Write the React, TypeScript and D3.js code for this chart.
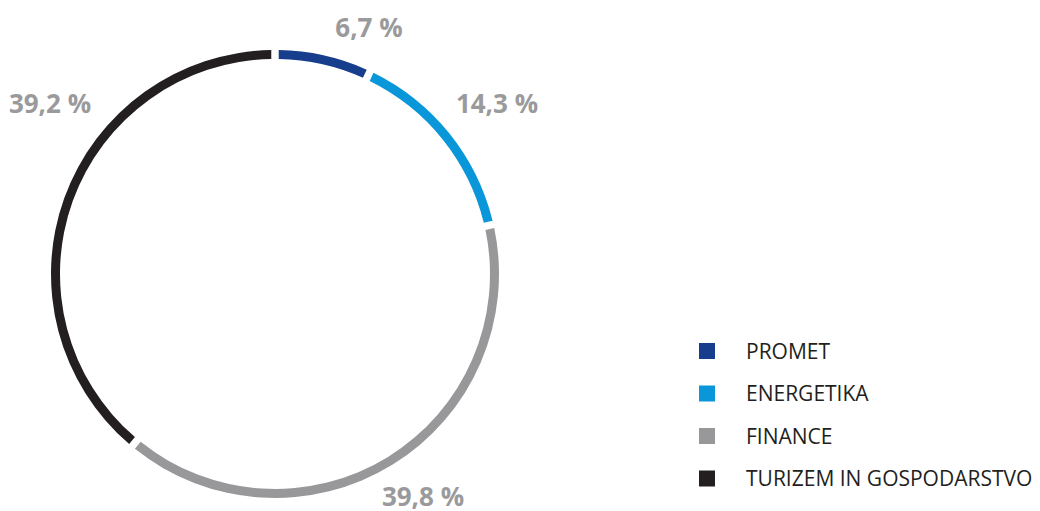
import React from "react";
import * as d3 from "d3";

const categories = ["PROMET", "ENERGETIKA", "FINANCE", "TURIZEM IN GOSPODARSTVO"];
const values = [6.7, 14.3, 39.8, 39.2];
const valueLabels = ["6,7 %", "14,3 %", "39,8 %", "39,2 %"];
const colors = ["#173d8d", "#0a97d9", "#98989b", "#231f20"];

// layout (label centres, px)
const labelPos: [number, number][] = [
  [369, 37],
  [497, 113],
  [423, 506],
  [50, 113],
];

export default function App() {
  const W = 1040, H = 511;
  const cx = 275, cy = 274;
  const outerR = 224, innerR = 215;

  const pie = d3.pie<number>().sort(null).value((d) => d).padAngle(0.024);
  const arcs = pie(values);
  const arc = d3.arc<d3.PieArcDatum<number>>().innerRadius(innerR).outerRadius(outerR);

  return (
    <svg width={W} height={H} style={{ position: "absolute", left: 0, top: 0 }}>
      <rect width={W} height={H} fill="#fff" />
      <g transform={`translate(${cx},${cy})`}>
        {arcs.map((a, i) => (
          <path key={i} d={arc(a) || ""} fill={colors[i]} />
        ))}
      </g>
      {valueLabels.map((t, i) => (
        <text
          key={i}
          x={labelPos[i][0]}
          y={labelPos[i][1]}
          textAnchor="middle"
          fontFamily="'Open Sans', sans-serif"
          fontWeight={700}
          fontSize={26}
          fill="#9a9a9c"
        >
          {t}
        </text>
      ))}
      {categories.map((c, i) => (
        <g key={c} transform={`translate(699, ${343 + i * 42.5})`}>
          <rect width={16} height={16} fill={colors[i]} />
          <text x={47} y={15.5} fontFamily="'Open Sans', sans-serif" fontSize={21} fill="#231f20">
            {c}
          </text>
        </g>
      ))}
    </svg>
  );
}
